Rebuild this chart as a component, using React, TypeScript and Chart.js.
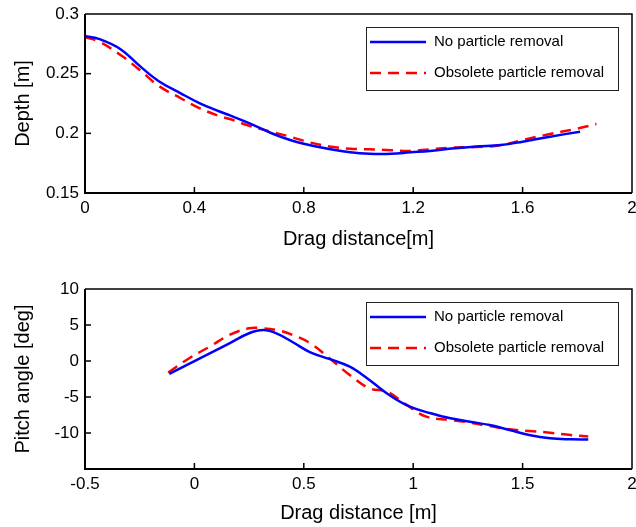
import React, { useEffect, useRef } from "react";
import { Chart, registerables } from "chart.js";

Chart.register(...registerables);

const FONT = '"Liberation Sans", Arial, Helvetica, sans-serif';

const seriesLabels = ["No particle removal", "Obsolete particle removal"];
const seriesColors = ["#0000FF", "#FF0000"];

// ---- Top chart: depth ----
const depthNoRemovalX = [0, 0.05, 0.13, 0.2, 0.27, 0.35, 0.42, 0.49, 0.53, 0.6, 0.68, 0.75, 0.82, 0.9, 0.97, 1.04, 1.12, 1.19, 1.26, 1.34, 1.43, 1.52, 1.6, 1.7, 1.81];
const depthNoRemovalY = [0.2815, 0.2792, 0.2705, 0.2565, 0.2437, 0.2335, 0.2252, 0.2185, 0.215, 0.2085, 0.2003, 0.1944, 0.1902, 0.1866, 0.1841, 0.1829, 0.1829, 0.1841, 0.1852, 0.1872, 0.189, 0.1902, 0.193, 0.1972, 0.2014];
const depthObsoleteX = [0, 0.05, 0.13, 0.2, 0.27, 0.35, 0.42, 0.49, 0.53, 0.6, 0.68, 0.75, 0.82, 0.9, 0.97, 1.04, 1.12, 1.19, 1.26, 1.34, 1.43, 1.52, 1.6, 1.7, 1.8, 1.87];
const depthObsoleteY = [0.2805, 0.277, 0.2656, 0.2531, 0.2397, 0.2294, 0.221, 0.2145, 0.212, 0.2064, 0.2014, 0.1972, 0.1925, 0.1888, 0.1871, 0.1866, 0.1858, 0.1852, 0.1866, 0.188, 0.1885, 0.19, 0.1944, 0.1994, 0.204, 0.2078];

const depthXTicks = [0, 0.4, 0.8, 1.2, 1.6, 2];
const depthXTickLabels = ["0", "0.4", "0.8", "1.2", "1.6", "2"];
const depthYTicks = [0.15, 0.2, 0.25, 0.3];
const depthYTickLabels = ["0.15", "0.2", "0.25", "0.3"];

// ---- Bottom chart: pitch angle ----
const pitchNoRemovalX = [-0.115, -0.02, 0.07, 0.16, 0.25, 0.315, 0.375, 0.45, 0.53, 0.62, 0.71, 0.8, 0.89, 0.985, 1.08, 1.17, 1.26, 1.35, 1.44, 1.53, 1.625, 1.72, 1.8];
const pitchNoRemovalY = [-1.8, -0.32, 1.06, 2.45, 3.85, 4.3, 3.85, 2.6, 1.2, 0.25, -0.79, -2.64, -4.72, -6.35, -7.26, -7.96, -8.43, -8.9, -9.58, -10.28, -10.74, -10.88, -10.9];
const pitchObsoleteX = [-0.12, -0.02, 0.07, 0.16, 0.25, 0.315, 0.375, 0.45, 0.53, 0.62, 0.71, 0.8, 0.88, 0.97, 1.06, 1.17, 1.26, 1.35, 1.44, 1.53, 1.625, 1.72, 1.8];
const pitchObsoleteY = [-1.6, 0.46, 1.99, 3.61, 4.54, 4.54, 4.31, 3.61, 2.45, 0.3, -1.94, -3.79, -4.26, -6.1, -7.73, -8.19, -8.56, -9.03, -9.49, -9.72, -9.96, -10.28, -10.5];

const pitchXTicks = [-0.5, 0, 0.5, 1, 1.5, 2];
const pitchXTickLabels = ["-0.5", "0", "0.5", "1", "1.5", "2"];
const pitchYTicks = [-10, -5, 0, 5, 10];
const pitchYTickLabels = ["-10", "-5", "0", "5", "10"];

const framePlugin = {
  id: "frameTicks",
  afterDatasetsDraw(chart: any) {
    const { ctx, chartArea: a, scales } = chart;
    const xs = scales.x;
    const ys = scales.y;
    ctx.save();
    ctx.strokeStyle = "#000";
    ctx.lineWidth = 1.5;
    xs.ticks.forEach((t: any) => {
      const p = xs.getPixelForValue(t.value);
      if (p > a.left + 2 && p < a.right - 2) {
        ctx.beginPath();
        ctx.moveTo(p, a.bottom);
        ctx.lineTo(p, a.bottom - 6);
        ctx.stroke();
      }
    });
    ys.ticks.forEach((t: any) => {
      const p = ys.getPixelForValue(t.value);
      if (p > a.top + 2 && p < a.bottom - 2) {
        ctx.beginPath();
        ctx.moveTo(a.left, p);
        ctx.lineTo(a.left + 6, p);
        ctx.stroke();
      }
    });
    // top & right border
    ctx.lineWidth = 1.5;
    ctx.beginPath();
    ctx.moveTo(a.left, a.top);
    ctx.lineTo(a.right, a.top);
    ctx.lineTo(a.right, a.bottom);
    ctx.stroke();
    // left & bottom axes
    ctx.lineWidth = 2;
    ctx.beginPath();
    ctx.moveTo(a.left, a.top);
    ctx.lineTo(a.left, a.bottom);
    ctx.lineTo(a.right, a.bottom);
    ctx.stroke();
    ctx.restore();
  },
};

const boxLegendPlugin = {
  id: "boxLegend",
  afterDraw(chart: any) {
    const { ctx, chartArea: a } = chart;
    const w = 252;
    const h = 63;
    const bx = a.right - 14 - w;
    const by = a.top + 13;
    ctx.save();
    ctx.fillStyle = "#fff";
    ctx.fillRect(bx, by, w, h);
    ctx.strokeStyle = "#222";
    ctx.lineWidth = 1;
    ctx.strokeRect(bx + 0.5, by + 0.5, w, h);
    const rows = [by + 15, by + 46];
    chart.data.datasets.forEach((ds: any, i: number) => {
      const y = rows[i];
      ctx.strokeStyle = ds.borderColor;
      ctx.lineWidth = ds.borderWidth;
      ctx.setLineDash(ds.borderDash || []);
      ctx.beginPath();
      ctx.moveTo(bx + 4, y);
      ctx.lineTo(bx + 60, y);
      ctx.stroke();
      ctx.setLineDash([]);
      ctx.fillStyle = "#000";
      ctx.font = `15px ${FONT}`;
      ctx.textBaseline = "middle";
      ctx.textAlign = "left";
      ctx.fillText(ds.label, bx + 68, y);
    });
    ctx.restore();
  },
};

function pts(xs: number[], ys: number[]) {
  return xs.map((x, i) => ({ x, y: ys[i] }));
}

function makeConfig(opts: {
  series: { x: number[]; y: number[] }[];
  xMin: number;
  xMax: number;
  yMin: number;
  yMax: number;
  xTicks: number[];
  xTickLabels: string[];
  yTicks: number[];
  yTickLabels: string[];
  xTitle: string;
  yTitle: string;
  topPad: number;
  xAxisHeight: number;
  xTitleBottomPad: number;
}) {
  return {
    type: "line" as const,
    data: {
      datasets: opts.series.map((s, i) => ({
        label: seriesLabels[i],
        data: pts(s.x, s.y),
        borderColor: seriesColors[i],
        backgroundColor: seriesColors[i],
        borderWidth: 2.5,
        borderDash: i === 1 ? [11, 7] : [],
        pointRadius: 0,
        fill: false,
        tension: 0.4,
      })),
    },
    options: {
      responsive: false,
      animation: false as const,
      events: [],
      layout: { padding: { left: 0, right: 4, top: opts.topPad, bottom: 0 } },
      plugins: { legend: { display: false }, tooltip: { enabled: false } },
      scales: {
        x: {
          type: "linear" as const,
          min: opts.xMin,
          max: opts.xMax,
          afterBuildTicks: (s: any) => {
            s.ticks = opts.xTicks.map((v) => ({ value: v }));
          },
          afterFit: (s: any) => {
            s.height = opts.xAxisHeight;
            s.paddingLeft = 0;
            s.paddingRight = 0;
          },
          grid: { display: false, drawTicks: false },
          border: { display: false },
          ticks: {
            color: "#000",
            font: { family: FONT, size: 17 },
            padding: 5,
            maxRotation: 0,
            autoSkip: false,
            callback: (_v: any, i: number) => opts.xTickLabels[i],
          },
          title: {
            display: true,
            text: opts.xTitle,
            color: "#000",
            font: { family: FONT, size: 20 },
            padding: { top: 0, bottom: opts.xTitleBottomPad },
          },
        },
        y: {
          type: "linear" as const,
          min: opts.yMin,
          max: opts.yMax,
          afterBuildTicks: (s: any) => {
            s.ticks = opts.yTicks.map((v) => ({ value: v }));
          },
          afterFit: (s: any) => {
            s.width = 85;
            s.paddingTop = 0;
            s.paddingBottom = 0;
          },
          grid: { display: false, drawTicks: false },
          border: { display: false },
          ticks: {
            color: "#000",
            font: { family: FONT, size: 17 },
            padding: 6,
            autoSkip: false,
            callback: (_v: any, i: number) => opts.yTickLabels[i],
          },
          title: {
            display: true,
            text: opts.yTitle,
            color: "#000",
            font: { family: FONT, size: 20 },
            padding: { top: 11, bottom: 0 },
          },
        },
      },
    },
    plugins: [framePlugin, boxLegendPlugin],
  };
}

function ChartCanvas({ config, height }: { config: any; height: number }) {
  const ref = useRef<HTMLCanvasElement | null>(null);
  useEffect(() => {
    if (!ref.current) return;
    const chart = new Chart(ref.current, config);
    return () => chart.destroy();
  }, [config]);
  return <canvas ref={ref} width={636} height={height} style={{ display: "block", width: 636, height }} />;
}

const topConfig = makeConfig({
  series: [
    { x: depthNoRemovalX, y: depthNoRemovalY },
    { x: depthObsoleteX, y: depthObsoleteY },
  ],
  xMin: 0,
  xMax: 2,
  yMin: 0.15,
  yMax: 0.3,
  xTicks: depthXTicks,
  xTickLabels: depthXTickLabels,
  yTicks: depthYTicks,
  yTickLabels: depthYTickLabels,
  xTitle: "Drag distance[m]",
  yTitle: "Depth [m]",
  topPad: 14,
  xAxisHeight: 70,
  xTitleBottomPad: 12,
});

const bottomConfig = makeConfig({
  series: [
    { x: pitchNoRemovalX, y: pitchNoRemovalY },
    { x: pitchObsoleteX, y: pitchObsoleteY },
  ],
  xMin: -0.5,
  xMax: 2,
  yMin: -15,
  yMax: 10,
  xTicks: pitchXTicks,
  xTickLabels: pitchXTickLabels,
  yTicks: pitchYTicks,
  yTickLabels: pitchYTickLabels,
  xTitle: "Drag distance [m]",
  yTitle: "Pitch angle [deg]",
  topPad: 26,
  xAxisHeight: 58,
  xTitleBottomPad: 2,
});

export default function App() {
  return (
    <div style={{ position: "absolute", left: 0, top: 0, width: 636, height: 527, background: "#fff" }}>
      <ChartCanvas config={topConfig} height={263} />
      <ChartCanvas config={bottomConfig} height={264} />
    </div>
  );
}
